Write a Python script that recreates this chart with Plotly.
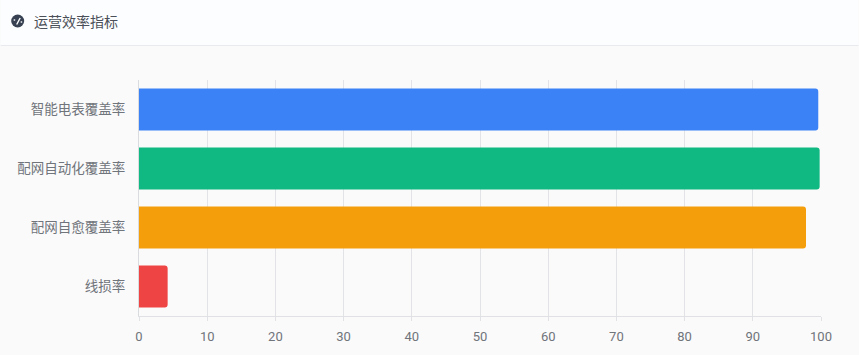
import plotly.graph_objects as go

title = "运营效率指标"
categories = ["智能电表覆盖率", "配网自动化覆盖率", "配网自愈覆盖率", "线损率"]
values = [99.6, 99.8, 97.8, 4.2]
colors = ["#3b82f6", "#10b981", "#f59e0b", "#ef4444"]
x_ticks = [0, 10, 20, 30, 40, 50, 60, 70, 80, 90, 100]

W, H = 859, 355
L, R, T, B = 138.5, 37.5, 80, 39
FONT = "Roboto, 'Noto Sans CJK SC', sans-serif"


def px(x):
    return (x - L) / (W - L - R)


def py(y):
    return 1 - (y - T) / (H - T - B)


fig = go.Figure(
    go.Bar(
        x=values,
        y=categories,
        orientation="h",
        marker=dict(color=colors, cornerradius=3, line=dict(width=0)),
        width=0.71,
        hoverinfo="x+y",
    )
)

shapes = [
    dict(type="rect", xref="paper", yref="paper", x0=px(0), x1=px(W), y0=py(45), y1=py(0),
         fillcolor="#fcfdfe", line=dict(width=0), layer="below"),
    dict(type="line", xref="paper", yref="paper", x0=px(0), x1=px(W), y0=py(45.5), y1=py(45.5),
         line=dict(color="#e8eaee", width=1), layer="below"),
    # gauge icon in the card header
    dict(type="circle", xref="paper", yref="paper", x0=px(10.5), x1=px(23.5), y0=py(27.5), y1=py(14.5),
         fillcolor="#374151", line=dict(width=0)),
    dict(type="line", xref="paper", yref="paper", x0=px(16), x1=px(19.5), y0=py(24.5), y1=py(18),
         line=dict(color="#fcfdfe", width=1.4)),
    dict(type="line", xref="paper", yref="paper", x0=px(13), x1=px(14.5), y0=py(20), y1=py(20),
         line=dict(color="#fcfdfe", width=1.4)),
    dict(type="line", xref="paper", yref="paper", x0=px(20), x1=px(21.5), y0=py(22), y1=py(22),
         line=dict(color="#fcfdfe", width=1.4)),
]

fig.update_layout(
    width=W,
    height=H,
    margin=dict(l=L, r=R, t=T, b=B, autoexpand=False),
    paper_bgcolor="#fafafa",
    plot_bgcolor="#fafafa",
    showlegend=False,
    font=dict(family=FONT, size=13, color="#70747b"),
    shapes=shapes,
    annotations=[
        dict(text=title, xref="paper", yref="paper", x=px(31), y=py(21.5), xanchor="left",
             yanchor="middle", showarrow=False, font=dict(size=14, color="#4b5058", family=FONT))
    ],
    xaxis=dict(
        range=[0, 100],
        tickvals=x_ticks,
        ticks="outside",
        ticklen=4,
        tickcolor="#e0e2e6",
        ticklabelstandoff=4,
        automargin=False,
        showgrid=True,
        gridcolor="#e1e3e7",
        gridwidth=1,
        showline=True,
        linecolor="#dfe1e5",
        zeroline=False,
        tickfont=dict(size=13, color="#70747b"),
    ),
    yaxis=dict(
        categoryorder="array",
        categoryarray=categories[::-1],
        automargin=False,
        showgrid=False,
        showline=True,
        linecolor="#d9dbdf",
        ticks="",
        ticklabelstandoff=10,
        tickfont=dict(size=13.5, color="#70747b"),
    ),
)

fig.write_html(
    "out.html",
    config={"displayModeBar": False},
    post_script="document.body.style.margin='0';document.body.style.background='#fafafa';",
)
